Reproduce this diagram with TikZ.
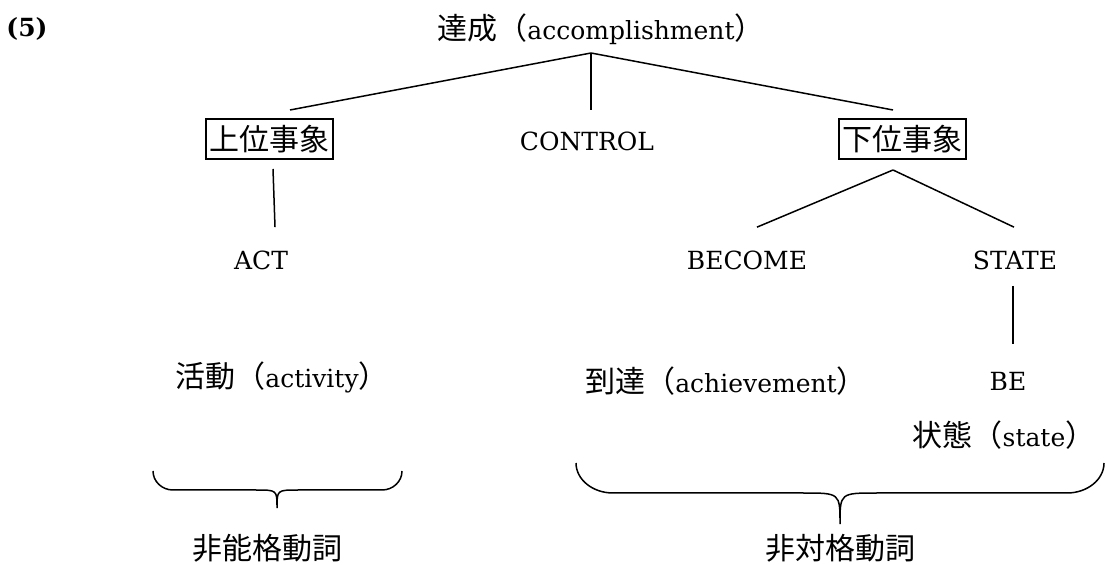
\documentclass[tikz,border=0pt]{standalone}
\usepackage{fontspec}
\setmainfont{DejaVu Serif}
\newfontfamily\jp{Noto Sans CJK JP}[Scale=1.2]
\usetikzlibrary{calc}
\tikzstyle{lbl}=[inner sep=0pt,font=\fontsize{12.5}{15}\selectfont]
\tikzstyle{eventbox}=[lbl,draw,line width=1pt,inner xsep=1.75pt,minimum height=20pt]
\tikzstyle{branch}=[draw,line width=0.75pt]
\tikzstyle{bracket}=[draw,line width=0.75pt]

\begin{document}
\begin{tikzpicture}[x=0.5pt,y=-0.5pt]
    \useasboundingbox (0,0) rectangle (1106,565);

    % number and top node
    \node[lbl] (num) at (27,29) {\bfseries (5)};
    \node[lbl] (root) at (601,29) {{\jp 達成（}accomplishment{\jp ）}};
    \coordinate (top) at (591,53);

    % first level
    \node[eventbox] (upper) at (269.5,139) {\jp 上位事象};
    \node[lbl] (control) at (587,141) {CONTROL};
    \node[eventbox] (lower) at (902.5,139) {\jp 下位事象};

    % second level
    \node[lbl] (act) at (261,260) {ACT};
    \node[lbl] (become) at (747,260) {BECOME};
    \node[lbl] (state) at (1015,260) {STATE};
    \node[lbl] (be) at (1008,381) {BE};

    % event types
    \node[lbl] (activity) at (282,377) {{\jp 活動（}activity{\jp ）}};
    \node[lbl] (achieve) at (726,381) {{\jp 到達（}achievement{\jp ）}};
    \node[lbl] (statetype) at (1004,435) {{\jp 状態（}state{\jp ）}};

    % line ends
    \coordinate (upin) at ($(upper.north)+(20.5,-8)$);
    \coordinate (ctin) at ($(control.north)+(4,-21)$);
    \coordinate (lowin) at ($(lower.north)+(-9.5,-8)$);
    \coordinate (upout) at ($(upper.south)+(3.5,9)$);
    \coordinate (actin) at ($(act.north)+(14,-23)$);
    \coordinate (lowout) at ($(lower.south)+(-9.5,10)$);
    \coordinate (becin) at ($(become.north)+(10,-23)$);
    \coordinate (stin) at ($(state.north)+(-1,-23)$);
    \coordinate (stout) at ($(state.south)+(-2,16)$);
    \coordinate (bein) at ($(be.north)+(5,-27)$);

    \foreach \source/\dest in {top/upin, top/ctin, top/lowin, upout/actin, lowout/becin, lowout/stin, stout/bein}
        \path[branch] (\source) -- (\dest);

    % braces
    \draw[bracket] (153,471) .. controls (153,481.5) and (162,490) .. (173,490) -- (256,490)
        .. controls (277,490) and (277,490) .. (277,508)
        .. controls (277,490) and (277,490) .. (298,490) -- (382,490)
        .. controls (393,490) and (402,481.5) .. (402,471);
    \draw[bracket] (576,463) .. controls (576,479.5) and (592.6,493) .. (613,493) -- (803,493)
        .. controls (840,493) and (840,493) .. (840,524)
        .. controls (840,493) and (840,493) .. (877,493) -- (1067,493)
        .. controls (1087.4,493) and (1104,479.5) .. (1104,463);

    \node[lbl] (unerg) at (267,548) {\jp 非能格動詞};
    \node[lbl] (unacc) at (840,548) {\jp 非対格動詞};
\end{tikzpicture}
\end{document}
